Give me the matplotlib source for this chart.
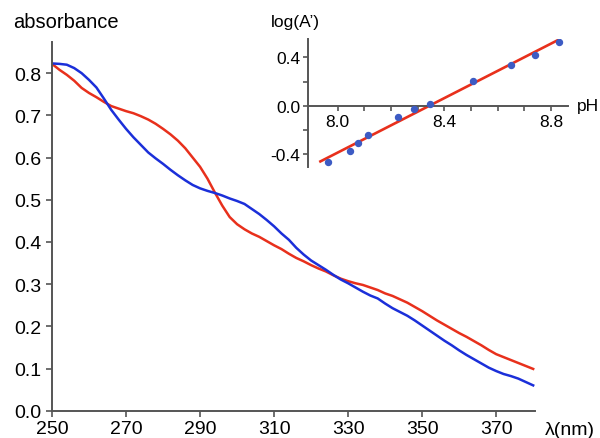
import matplotlib.pyplot as plt
import numpy as np

plt.rcParams['font.family'] = ['Liberation Sans', 'DejaVu Sans']

# absorbance spectra
wavelength = np.arange(250, 381, 2)
abs_blue = [0.823, 0.822, 0.820, 0.812, 0.800, 0.784, 0.766, 0.740, 0.713, 0.690,
            0.668, 0.648, 0.630, 0.612, 0.598, 0.585, 0.571, 0.558, 0.546, 0.535,
            0.527, 0.521, 0.516, 0.510, 0.503, 0.497, 0.490, 0.478, 0.466, 0.452,
            0.437, 0.420, 0.405, 0.386, 0.370, 0.356, 0.345, 0.334, 0.322, 0.311,
            0.302, 0.292, 0.282, 0.273, 0.266, 0.254, 0.243, 0.234, 0.225, 0.214,
            0.202, 0.190, 0.178, 0.166, 0.155, 0.143, 0.132, 0.122, 0.112, 0.102,
            0.094, 0.087, 0.082, 0.076, 0.068, 0.060]
abs_red = [0.822, 0.808, 0.796, 0.782, 0.765, 0.753, 0.743, 0.732, 0.722, 0.716,
           0.710, 0.705, 0.698, 0.690, 0.680, 0.668, 0.655, 0.640, 0.622, 0.600,
           0.578, 0.550, 0.517, 0.486, 0.459, 0.442, 0.430, 0.420, 0.412, 0.402,
           0.392, 0.383, 0.372, 0.362, 0.354, 0.345, 0.337, 0.330, 0.321, 0.313,
           0.307, 0.302, 0.298, 0.292, 0.286, 0.278, 0.272, 0.264, 0.256, 0.246,
           0.236, 0.225, 0.214, 0.204, 0.194, 0.184, 0.175, 0.165, 0.155, 0.144,
           0.134, 0.127, 0.120, 0.113, 0.106, 0.099]

# inset: log(A') vs pH
ph = [7.965, 8.045, 8.076, 8.115, 8.226, 8.287, 8.347, 8.506, 8.649, 8.739, 8.830]
log_a = [-0.462, -0.371, -0.308, -0.236, -0.091, -0.022, 0.017, 0.201, 0.338, 0.418, 0.528]
fit_range = [7.935, 8.83]

spine_col = '#555555'
red = '#e8301c'
blue = '#1b2fd9'

fig = plt.figure(figsize=(6, 4.39), dpi=100)
ax = fig.add_axes([0.0867, 0.0622, 0.805, 0.840])
ax.plot(wavelength, abs_red, color=red, lw=1.8)
ax.plot(wavelength, abs_blue, color=blue, lw=1.8)
ax.set_xlim(250, 380.5)
ax.set_ylim(0, 0.874)
ax.set_xticks([250, 270, 290, 310, 330, 350, 370])
ax.set_yticks(np.arange(0, 0.81, 0.1))
ax.set_yticklabels(['%.1f' % v for v in np.arange(0, 0.81, 0.1)])
for s in ['top', 'right']:
    ax.spines[s].set_visible(False)
for s in ['left', 'bottom']:
    ax.spines[s].set_color(spine_col)
    ax.spines[s].set_linewidth(1.4)
ax.tick_params(direction='out', length=4, width=1.2, color=spine_col,
               labelsize=14, pad=3.5)
ax.tick_params(axis='x', pad=2.5)
fig.text(12.7 / 600, 1 - 22 / 439, 'absorbance', fontsize=14.5, ha='left', va='center')
fig.text(545 / 600, 1 - 431 / 439, 'λ(nm)', fontsize=14, ha='left', va='center')

# inset
ins = fig.add_axes([0.514, 0.617, 0.433, 0.2916])
ins.patch.set_alpha(0)
coeffs = np.polyfit(ph, log_a, 1)
fit = np.poly1d(coeffs)
ins.plot(fit_range, fit(fit_range), color=red, lw=1.9, zorder=2)
ins.plot(ph, log_a, 'o', color='#3d5bc4', ms=4.3, zorder=3)
ins.set_xlim(7.89, 8.865)
ins.set_ylim(-0.504, 0.549)
ins.spines['top'].set_visible(False)
ins.spines['right'].set_visible(False)
ins.spines['bottom'].set_position(('data', 0))
for s in ['left', 'bottom']:
    ins.spines[s].set_color(spine_col)
    ins.spines[s].set_linewidth(1.4)
xt = np.arange(8.0, 8.85, 0.1)
ins.set_xticks(xt)
ins.set_xticklabels(['8.0', '', '', '', '8.4', '', '', '', '8.8'])
ins.set_yticks([-0.4, -0.2, 0, 0.2, 0.4])
ins.set_yticklabels(['-0.4', '', '0.0', '', '0.4'])
ins.tick_params(direction='out', length=3.5, width=1.2, color=spine_col,
                labelsize=12.5, pad=2.5)
fig.text(271 / 600, 1 - 22 / 439, 'log(A’)', fontsize=12.5, ha='left', va='center')
fig.text(577 / 600, 1 - 107 / 439, 'pH', fontsize=12.5, ha='left', va='center')

fig.savefig('out.png', dpi=100)
